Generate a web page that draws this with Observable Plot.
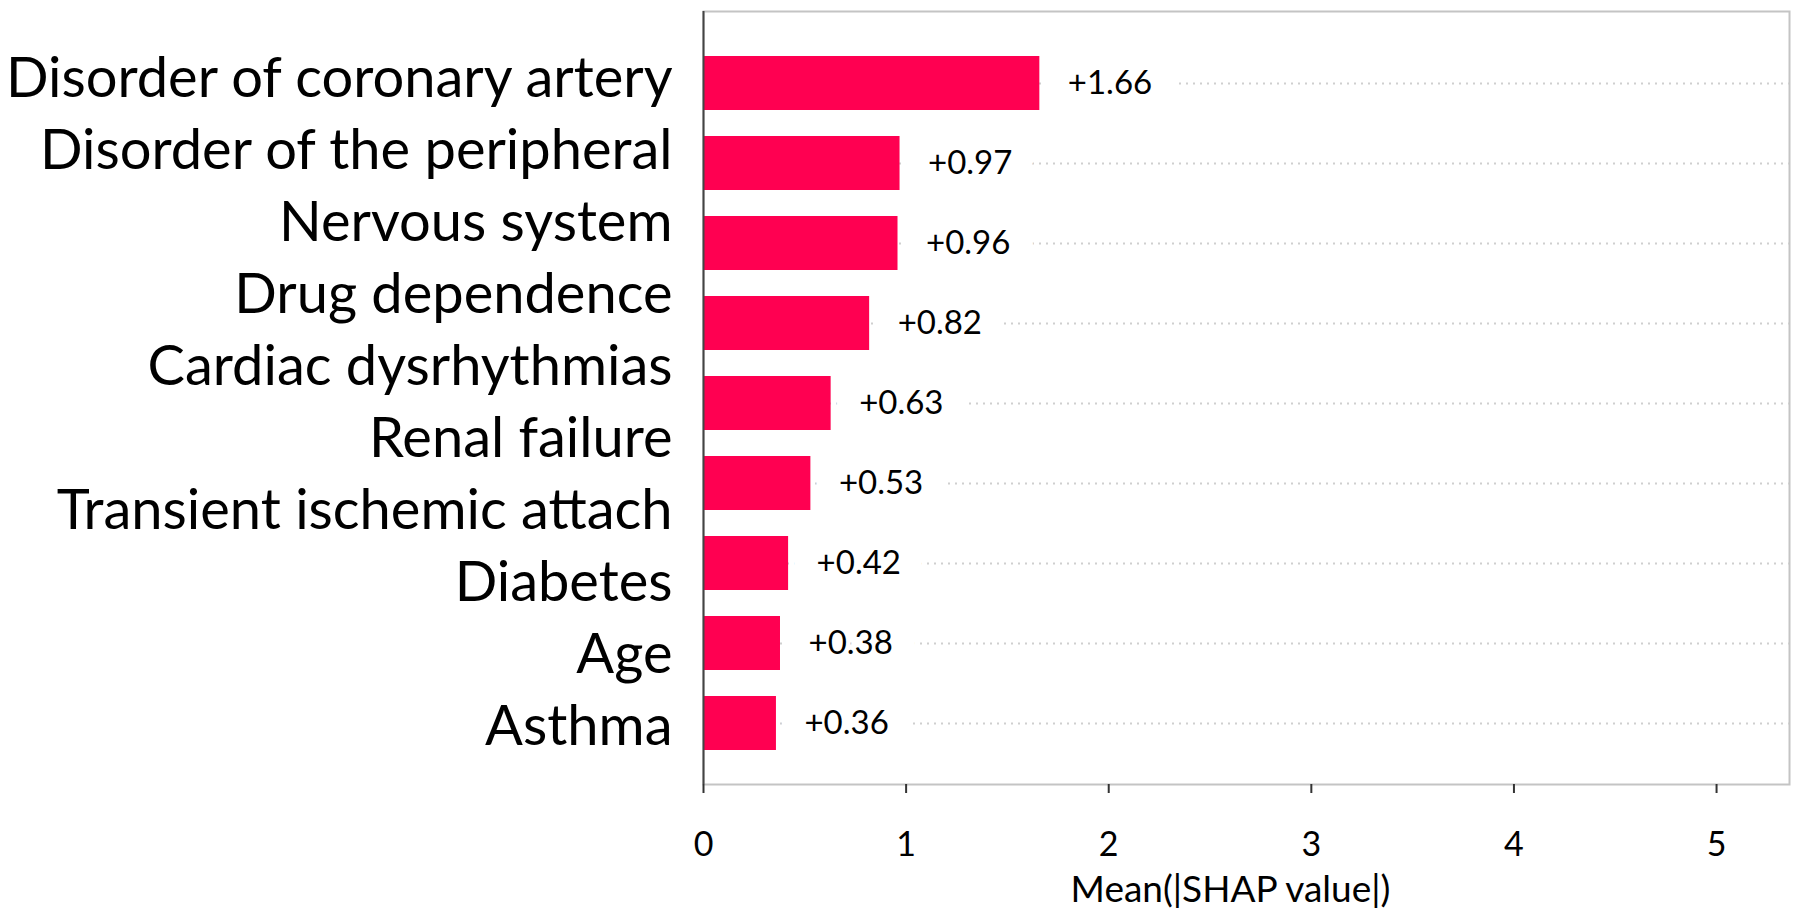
<!DOCTYPE html>
<html>
<head>
<meta charset="utf-8">
<script src="https://cdn.jsdelivr.net/npm/d3@7"></script>
<script src="https://cdn.jsdelivr.net/npm/@observablehq/plot@0.6"></script>
<style>
  html, body { margin: 0; padding: 0; background: #fff; }
  #row { display: flex; flex-direction: row; width: 1800px; height: 919px; }
  #row svg { display: block; }
</style>
</head>
<body>
<div id="row"></div>
<script>
// ---- data ----
const featureLabels = [
  "Disorder of coronary artery",
  "Disorder of the peripheral",
  "Nervous system",
  "Drug dependence",
  "Cardiac dysrhythmias",
  "Renal failure",
  "Transient ischemic attach",
  "Diabetes",
  "Age",
  "Asthma"
];
const barValues = [1.66, 0.97, 0.96, 0.82, 0.63, 0.53, 0.42, 0.38, 0.36];
const xTicks = [0, 1, 2, 3, 4, 5];
const xTitle = "Mean(|SHAP value|)";

const bars = barValues.map((v, i) => ({feature: featureLabels[i], value: v}));
const FONT = "Lato, 'Open Sans', sans-serif";

// ---- left: feature names column ----
const left = Plot.plot({
  width: 690, height: 919,
  marginLeft: 680, marginRight: 10, marginTop: 40, marginBottom: 153,
  style: {fontFamily: FONT, color: "#000", background: "white", overflow: "visible"},
  y: {type: "band", domain: featureLabels, padding: 0},
  marks: [
    Plot.axisY({tickSize: 0, tickPadding: 8, fontSize: 56, label: null})
  ]
});

// ---- right: bars ----
const right = Plot.plot({
  width: 1110, height: 919,
  marginLeft: 13, marginRight: 11, marginTop: 11, marginBottom: 135,
  style: {fontFamily: FONT, color: "#000", background: "white"},
  x: {domain: [0, 5.36]},
  y: {domain: bars.map(d => d.feature), paddingInner: 0.329, paddingOuter: 0.4655, align: 0.573, axis: null},
  marks: [
    Plot.frame({stroke: "#c4c4c4", strokeWidth: 2}),
    Plot.ruleY(bars, {y: "feature", stroke: "#cfcfcf", strokeWidth: 2, strokeDasharray: "2,5"}),
    Plot.barX(bars, {x: "value", y: "feature", fill: "#ff0051"}),
    Plot.text(bars, {
      x: "value", y: "feature",
      text: d => "+" + d.value.toFixed(2),
      textAnchor: "start", dx: 28, fontSize: 33, fill: "#000",
      stroke: "white", strokeWidth: 48, strokeLinejoin: "round"
    }),
    Plot.ruleX([0], {stroke: "#444", strokeWidth: 2}),
    Plot.axisX({
      ticks: xTicks, tickSize: 9, tickPadding: 38, fontSize: 34,
      stroke: "#333", strokeWidth: 2, line: true, label: null,
      tickFormat: d3.format("d")
    }),
    Plot.text([xTitle], {frameAnchor: "bottom", lineAnchor: "middle", dx: -16, dy: 106, fontSize: 37, fill: "#000"})
  ]
});

const row = document.getElementById("row");
row.appendChild(left);
row.appendChild(right);
</script>
</body>
</html>
